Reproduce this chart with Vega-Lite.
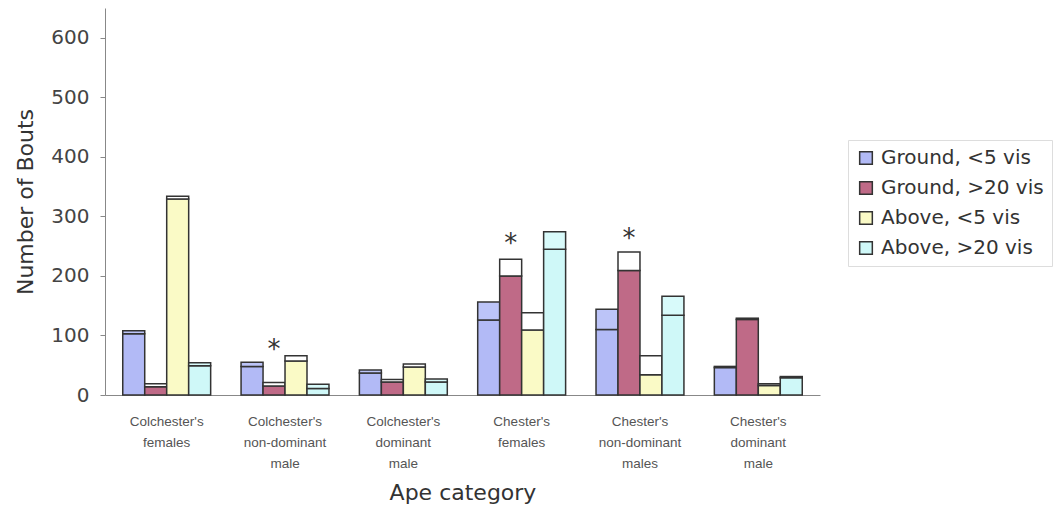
{
  "$schema": "https://vega.github.io/schema/vega-lite/v6.json",
  "width": 715,
  "height": 387,
  "autosize": {"type": "none"},
  "padding": {"left": 105, "top": 8, "right": 240, "bottom": 120},
  "background": "white",
  "config": {
    "view": {"stroke": null},
    "font": "DejaVu Sans",
    "axis": {"grid": false, "domainColor": "#888", "tickColor": "#888", "labelFont": "DejaVu Sans", "titleFont": "DejaVu Sans", "titleFontWeight": "normal"}
  },
  "datasets": {
    "bars": [
      {"category": "Colchester's|females", "series": "Ground, <5 vis", "part": "1 lower", "key": "Ground, <5 vis", "value": 103},
      {"category": "Colchester's|females", "series": "Ground, <5 vis", "part": "2 upper", "key": "Ground, <5 vis top", "value": 5},
      {"category": "Colchester's|females", "series": "Ground, >20 vis", "part": "1 lower", "key": "Ground, >20 vis", "value": 14},
      {"category": "Colchester's|females", "series": "Ground, >20 vis", "part": "2 upper", "key": "Ground, >20 vis top", "value": 5},
      {"category": "Colchester's|females", "series": "Above, <5 vis", "part": "1 lower", "key": "Above, <5 vis", "value": 329},
      {"category": "Colchester's|females", "series": "Above, <5 vis", "part": "2 upper", "key": "Above, <5 vis top", "value": 5},
      {"category": "Colchester's|females", "series": "Above, >20 vis", "part": "1 lower", "key": "Above, >20 vis", "value": 49},
      {"category": "Colchester's|females", "series": "Above, >20 vis", "part": "2 upper", "key": "Above, >20 vis top", "value": 5},

      {"category": "Colchester's|non-dominant|male", "series": "Ground, <5 vis", "part": "1 lower", "key": "Ground, <5 vis", "value": 48},
      {"category": "Colchester's|non-dominant|male", "series": "Ground, <5 vis", "part": "2 upper", "key": "Ground, <5 vis top", "value": 7},
      {"category": "Colchester's|non-dominant|male", "series": "Ground, >20 vis", "part": "1 lower", "key": "Ground, >20 vis", "value": 15},
      {"category": "Colchester's|non-dominant|male", "series": "Ground, >20 vis", "part": "2 upper", "key": "Ground, >20 vis top", "value": 6},
      {"category": "Colchester's|non-dominant|male", "series": "Above, <5 vis", "part": "1 lower", "key": "Above, <5 vis", "value": 57},
      {"category": "Colchester's|non-dominant|male", "series": "Above, <5 vis", "part": "2 upper", "key": "Above, <5 vis top", "value": 9},
      {"category": "Colchester's|non-dominant|male", "series": "Above, >20 vis", "part": "1 lower", "key": "Above, >20 vis", "value": 11},
      {"category": "Colchester's|non-dominant|male", "series": "Above, >20 vis", "part": "2 upper", "key": "Above, >20 vis top", "value": 7},

      {"category": "Colchester's|dominant|male", "series": "Ground, <5 vis", "part": "1 lower", "key": "Ground, <5 vis", "value": 37},
      {"category": "Colchester's|dominant|male", "series": "Ground, <5 vis", "part": "2 upper", "key": "Ground, <5 vis top", "value": 5},
      {"category": "Colchester's|dominant|male", "series": "Ground, >20 vis", "part": "1 lower", "key": "Ground, >20 vis", "value": 22},
      {"category": "Colchester's|dominant|male", "series": "Ground, >20 vis", "part": "2 upper", "key": "Ground, >20 vis top", "value": 4},
      {"category": "Colchester's|dominant|male", "series": "Above, <5 vis", "part": "1 lower", "key": "Above, <5 vis", "value": 47},
      {"category": "Colchester's|dominant|male", "series": "Above, <5 vis", "part": "2 upper", "key": "Above, <5 vis top", "value": 5},
      {"category": "Colchester's|dominant|male", "series": "Above, >20 vis", "part": "1 lower", "key": "Above, >20 vis", "value": 22},
      {"category": "Colchester's|dominant|male", "series": "Above, >20 vis", "part": "2 upper", "key": "Above, >20 vis top", "value": 5},

      {"category": "Chester's|females", "series": "Ground, <5 vis", "part": "1 lower", "key": "Ground, <5 vis", "value": 126},
      {"category": "Chester's|females", "series": "Ground, <5 vis", "part": "2 upper", "key": "Ground, <5 vis top", "value": 30},
      {"category": "Chester's|females", "series": "Ground, >20 vis", "part": "1 lower", "key": "Ground, >20 vis", "value": 200},
      {"category": "Chester's|females", "series": "Ground, >20 vis", "part": "2 upper", "key": "Ground, >20 vis top", "value": 28},
      {"category": "Chester's|females", "series": "Above, <5 vis", "part": "1 lower", "key": "Above, <5 vis", "value": 109},
      {"category": "Chester's|females", "series": "Above, <5 vis", "part": "2 upper", "key": "Above, <5 vis top", "value": 29},
      {"category": "Chester's|females", "series": "Above, >20 vis", "part": "1 lower", "key": "Above, >20 vis", "value": 245},
      {"category": "Chester's|females", "series": "Above, >20 vis", "part": "2 upper", "key": "Above, >20 vis top", "value": 29},

      {"category": "Chester's|non-dominant|males", "series": "Ground, <5 vis", "part": "1 lower", "key": "Ground, <5 vis", "value": 110},
      {"category": "Chester's|non-dominant|males", "series": "Ground, <5 vis", "part": "2 upper", "key": "Ground, <5 vis top", "value": 34},
      {"category": "Chester's|non-dominant|males", "series": "Ground, >20 vis", "part": "1 lower", "key": "Ground, >20 vis", "value": 209},
      {"category": "Chester's|non-dominant|males", "series": "Ground, >20 vis", "part": "2 upper", "key": "Ground, >20 vis top", "value": 31},
      {"category": "Chester's|non-dominant|males", "series": "Above, <5 vis", "part": "1 lower", "key": "Above, <5 vis", "value": 34},
      {"category": "Chester's|non-dominant|males", "series": "Above, <5 vis", "part": "2 upper", "key": "Above, <5 vis top", "value": 32},
      {"category": "Chester's|non-dominant|males", "series": "Above, >20 vis", "part": "1 lower", "key": "Above, >20 vis", "value": 134},
      {"category": "Chester's|non-dominant|males", "series": "Above, >20 vis", "part": "2 upper", "key": "Above, >20 vis top", "value": 32},

      {"category": "Chester's|dominant|male", "series": "Ground, <5 vis", "part": "1 lower", "key": "Ground, <5 vis", "value": 46},
      {"category": "Chester's|dominant|male", "series": "Ground, <5 vis", "part": "2 upper", "key": "Ground, <5 vis top", "value": 2},
      {"category": "Chester's|dominant|male", "series": "Ground, >20 vis", "part": "1 lower", "key": "Ground, >20 vis", "value": 127},
      {"category": "Chester's|dominant|male", "series": "Ground, >20 vis", "part": "2 upper", "key": "Ground, >20 vis top", "value": 2},
      {"category": "Chester's|dominant|male", "series": "Above, <5 vis", "part": "1 lower", "key": "Above, <5 vis", "value": 16},
      {"category": "Chester's|dominant|male", "series": "Above, <5 vis", "part": "2 upper", "key": "Above, <5 vis top", "value": 3},
      {"category": "Chester's|dominant|male", "series": "Above, >20 vis", "part": "1 lower", "key": "Above, >20 vis", "value": 29},
      {"category": "Chester's|dominant|male", "series": "Above, >20 vis", "part": "2 upper", "key": "Above, >20 vis top", "value": 2}
    ],
    "stars": [
      {"category": "Colchester's|non-dominant|male", "series": "Ground, >20 vis", "value": 89, "label": "*"},
      {"category": "Chester's|females", "series": "Ground, >20 vis", "value": 267, "label": "*"},
      {"category": "Chester's|non-dominant|males", "series": "Ground, >20 vis", "value": 276, "label": "*"}
    ]
  },
  "encoding": {
    "x": {
      "field": "category",
      "type": "nominal",
      "sort": null,
      "scale": {"domain": ["Colchester's|females", "Colchester's|non-dominant|male", "Colchester's|dominant|male", "Chester's|females", "Chester's|non-dominant|males", "Chester's|dominant|male"], "paddingInner": 0.257, "paddingOuter": 0.15},
      "axis": {
        "title": "Ape category",
        "titleFontSize": 22,
        "titleColor": "#333",
        "titlePadding": 13,
        "labelAngle": 0,
        "labelExpr": "split(datum.label, '|')",
        "labelFont": "Liberation Sans",
        "labelFontSize": 13.5,
        "labelColor": "#555",
        "labelLineHeight": 21,
        "labelPadding": 19,
        "labelBaseline": "top",
        "ticks": false
      }
    },
    "xOffset": {
      "field": "series",
      "type": "nominal",
      "scale": {"domain": ["Ground, <5 vis", "Ground, >20 vis", "Above, <5 vis", "Above, >20 vis"], "paddingInner": 0, "paddingOuter": 0}
    },
    "y": {
      "field": "value",
      "type": "quantitative",
      "scale": {"domain": [0, 650], "nice": false},
      "axis": {
        "title": "Number of Bouts",
        "titleFontSize": 22,
        "titleColor": "#333",
        "titlePadding": 13,
        "values": [0, 100, 200, 300, 400, 500, 600],
        "labelFontSize": 20,
        "labelColor": "#444",
        "labelPadding": 11,
        "tickSize": 5
      }
    }
  },
  "layer": [
    {
      "data": {"name": "bars"},
      "mark": {"type": "bar", "stroke": "#333", "strokeWidth": 1.5},
      "encoding": {
        "y": {"field": "value", "type": "quantitative", "stack": "zero"},
        "order": {"field": "part", "type": "ordinal"},
        "fill": {
          "field": "key",
          "type": "nominal",
          "scale": {
            "domain": ["Ground, <5 vis", "Ground, >20 vis", "Above, <5 vis", "Above, >20 vis", "Ground, <5 vis top", "Ground, >20 vis top", "Above, <5 vis top", "Above, >20 vis top"],
            "range": ["#b2baf6", "#bf6a87", "#fafac6", "#cff8f8", "#bcc4f8", "#ffffff", "#ffffff", "#d8fafa"]
          },
          "legend": {
            "title": null,
            "values": ["Ground, <5 vis", "Ground, >20 vis", "Above, <5 vis", "Above, >20 vis"],
            "orient": "none",
            "legendX": 743,
            "legendY": 132,
            "symbolType": "square",
            "symbolSize": 160,
            "symbolStrokeColor": "#333",
            "symbolStrokeWidth": 1.5,
            "labelFontSize": 20,
            "labelLimit": 300,
            "labelColor": "#333",
            "labelFont": "DejaVu Sans",
            "labelOffset": 5,
            "rowPadding": 10,
            "padding": 8,
            "strokeColor": "#ddd"
          }
        }
      }
    },
    {
      "data": {"name": "stars"},
      "mark": {"type": "text", "fontSize": 26, "color": "#333", "baseline": "middle", "dy": 8},
      "encoding": {
        "text": {"field": "label"}
      }
    }
  ]
}
